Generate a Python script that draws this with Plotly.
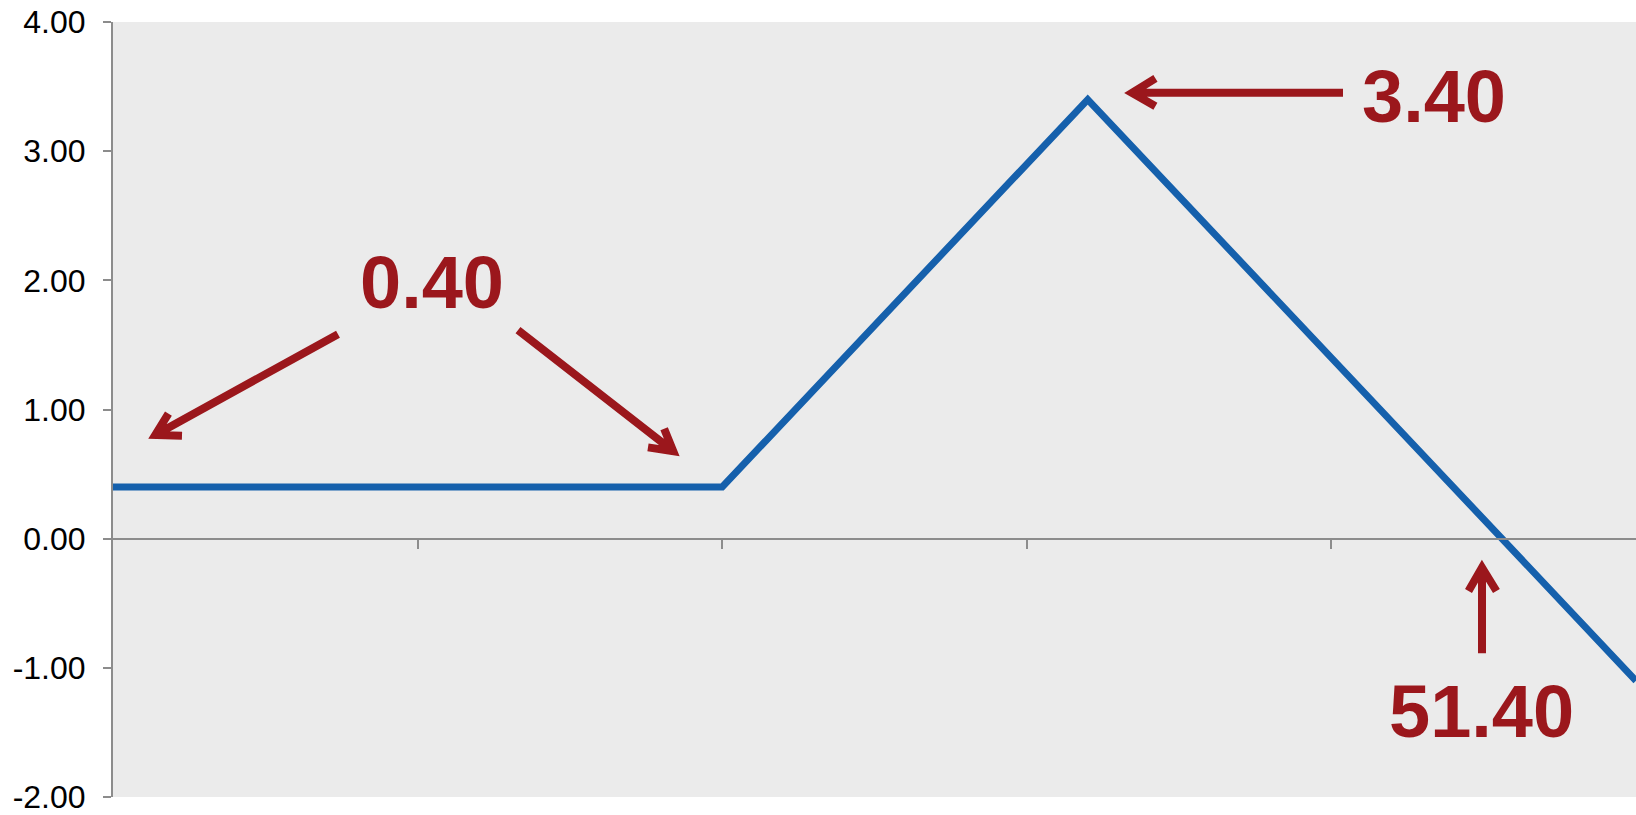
import math
import plotly.graph_objects as go

# Data: payoff profile (price vs profit)
prices = [40.0, 45.0, 48.0, 52.5]
payoff = [0.40, 0.40, 3.40, -1.10]

y_ticks = [-2, -1, 0, 1, 2, 3, 4]
y_tick_text = ["-2.00", "-1.00", "0.00", "1.00", "2.00", "3.00", "4.00"]
x_ticks = [42.5, 45.0, 47.5, 50.0]

labels = ["0.40", "3.40", "51.40"]

W, H = 1636, 815
L, R, T, B = 113, 0, 22, 16
X0, X1 = 40.0, 52.5
Y0, Y1 = -2.0, 4.0

def px(xp, yp):
    xd = X0 + (xp - L) / (W - L - R) * (X1 - X0)
    yd = Y1 - (yp - T) / (H - T - B) * (Y1 - Y0)
    return xd, yd

RED = "#9B171C"
BLUE = "#1560AC"
GRAY = "#8C8C8C"

fig = go.Figure()
fig.add_trace(go.Scatter(x=prices, y=payoff, mode="lines",
                         line=dict(color=BLUE, width=7), hoverinfo="skip",
                         showlegend=False))

# arrows: (tail, tip, arm1, arm2) in pixel positions
arrows = [
    ((338, 335), (150, 439), (170, 412), (185, 437)),
    ((518, 331), (678, 456), (663, 427), (645, 448)),
    ((1343, 93), (1126, 93), (1158, 77), (1158, 108)),
    ((1482, 655), (1482, 563), (1467, 595), (1498, 595)),
]
shapes = []
for tail, tip, a1, a2 in arrows:
    dx, dy = tip[0] - tail[0], tip[1] - tail[1]
    n = math.hypot(dx, dy)
    tip_in = (tip[0] - dx / n * 6, tip[1] - dy / n * 6)
    def pull(a):
        ax, ay = a[0] - tip_in[0], a[1] - tip_in[1]
        m = math.hypot(ax, ay)
        return (a[0] - ax / m * 3, a[1] - ay / m * 3)
    t = px(*tail); p = px(*tip_in); b1 = px(*pull(a1)); b2 = px(*pull(a2))
    path = (f"M{t[0]},{t[1]} L{p[0]},{p[1]} "
            f"M{b1[0]},{b1[1]} L{p[0]},{p[1]} L{b2[0]},{b2[1]}")
    shapes.append(dict(type="path", path=path, xref="x", yref="y",
                       line=dict(color=RED, width=8)))

text_pos = [(432, 280), (1434, 94), (1481, 710)]
annotations = []
for lab, (xp, yp) in zip(labels, text_pos):
    xd, yd = px(xp, yp + 3)
    annotations.append(dict(x=xd, y=yd, xref="x", yref="y", text=lab,
                            showarrow=False, xanchor="center", yanchor="middle",
                            font=dict(family="Liberation Sans, Arial", size=74,
                                      color=RED, weight="bold")))

fig.update_layout(
    width=W, height=H,
    margin=dict(l=L, r=R, t=T, b=B, pad=0),
    paper_bgcolor="white",
    plot_bgcolor="#EBEBEB",
    shapes=shapes,
    annotations=annotations,
    showlegend=False,
    xaxis=dict(range=[X0, X1], tickmode="array", tickvals=x_ticks,
               showticklabels=False, ticks="outside", ticklen=9, tickwidth=2,
               tickcolor=GRAY, showline=True, linecolor=GRAY, linewidth=2,
               showgrid=False, zeroline=False, anchor="free",
               position=(0 - Y0) / (Y1 - Y0)),
    yaxis=dict(range=[Y0, Y1], tickmode="array", tickvals=y_ticks,
               ticktext=y_tick_text, ticks="outside", ticklen=8, tickwidth=2,
               tickcolor=GRAY, showline=True, linecolor=GRAY, linewidth=2,
               showgrid=False, zeroline=False, ticklabelstandoff=11,
               ticklabeloverflow="allow",
               tickfont=dict(family="Liberation Sans, Arial", size=32,
                             color="black")),
)

fig.write_html("out.html")
